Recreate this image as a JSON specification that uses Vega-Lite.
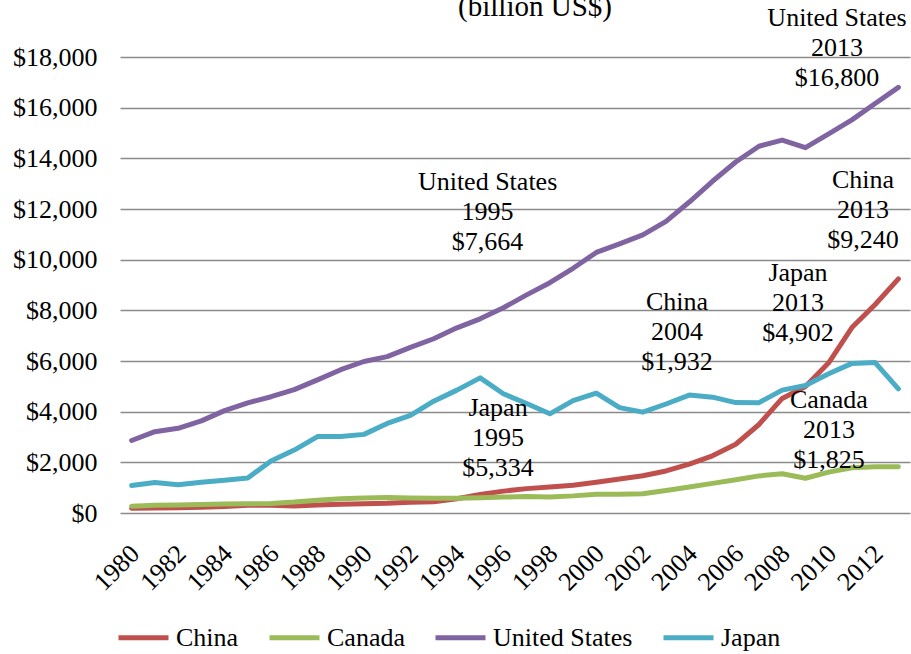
{
  "$schema": "https://vega.github.io/schema/vega-lite/v6.json",
  "autosize": {"type": "none"},
  "padding": {"left": 120, "top": 57, "right": 1, "bottom": 141},
  "width": 790,
  "height": 456,
  "title": {"text": "(billion US$)", "fontSize": 29, "font": "Liberation Serif", "fontWeight": "normal", "color": "black", "dx": 20, "offset": 0, "dy": 17},
  "config": {
    "font": "Liberation Serif",
    "view": {"stroke": null}
  },
  "datasets": {
    "gdp": [
      {"year": 1980, "China": 191, "Canada": 269, "United States": 2863, "Japan": 1087},
      {"year": 1981, "China": 196, "Canada": 302, "United States": 3211, "Japan": 1201},
      {"year": 1982, "China": 205, "Canada": 313, "United States": 3345, "Japan": 1117},
      {"year": 1983, "China": 230, "Canada": 340, "United States": 3638, "Japan": 1218},
      {"year": 1984, "China": 260, "Canada": 356, "United States": 4041, "Japan": 1295},
      {"year": 1985, "China": 309, "Canada": 365, "United States": 4347, "Japan": 1385},
      {"year": 1986, "China": 301, "Canada": 377, "United States": 4590, "Japan": 2051},
      {"year": 1987, "China": 273, "Canada": 431, "United States": 4870, "Japan": 2485},
      {"year": 1988, "China": 312, "Canada": 507, "United States": 5253, "Japan": 3016},
      {"year": 1989, "China": 348, "Canada": 566, "United States": 5658, "Japan": 3018},
      {"year": 1990, "China": 361, "Canada": 594, "United States": 5980, "Japan": 3104},
      {"year": 1991, "China": 383, "Canada": 611, "United States": 6174, "Japan": 3537},
      {"year": 1992, "China": 427, "Canada": 593, "United States": 6539, "Japan": 3853},
      {"year": 1993, "China": 445, "Canada": 578, "United States": 6879, "Japan": 4415},
      {"year": 1994, "China": 564, "Canada": 579, "United States": 7309, "Japan": 4850},
      {"year": 1995, "China": 734, "Canada": 604, "United States": 7664, "Japan": 5334},
      {"year": 1996, "China": 864, "Canada": 628, "United States": 8100, "Japan": 4706},
      {"year": 1997, "China": 962, "Canada": 652, "United States": 8609, "Japan": 4324},
      {"year": 1998, "China": 1029, "Canada": 631, "United States": 9089, "Japan": 3915},
      {"year": 1999, "China": 1094, "Canada": 676, "United States": 9661, "Japan": 4433},
      {"year": 2000, "China": 1211, "Canada": 742, "United States": 10285, "Japan": 4731},
      {"year": 2001, "China": 1339, "Canada": 736, "United States": 10622, "Japan": 4160},
      {"year": 2002, "China": 1471, "Canada": 758, "United States": 10978, "Japan": 3981},
      {"year": 2003, "China": 1660, "Canada": 892, "United States": 11511, "Japan": 4303},
      {"year": 2004, "China": 1932, "Canada": 1023, "United States": 12275, "Japan": 4656},
      {"year": 2005, "China": 2257, "Canada": 1169, "United States": 13094, "Japan": 4572},
      {"year": 2006, "China": 2713, "Canada": 1315, "United States": 13856, "Japan": 4357},
      {"year": 2007, "China": 3494, "Canada": 1465, "United States": 14478, "Japan": 4356},
      {"year": 2008, "China": 4522, "Canada": 1549, "United States": 14719, "Japan": 4849},
      {"year": 2009, "China": 4990, "Canada": 1371, "United States": 14419, "Japan": 5035},
      {"year": 2010, "China": 5930, "Canada": 1613, "United States": 14964, "Japan": 5495},
      {"year": 2011, "China": 7322, "Canada": 1789, "United States": 15518, "Japan": 5906},
      {"year": 2012, "China": 8229, "Canada": 1824, "United States": 16163, "Japan": 5938},
      {"year": 2013, "China": 9240, "Canada": 1825, "United States": 16800, "Japan": 4902}
    ],
    "notes": [
      {"label": "United States\n1995\n$7,664", "lx": 1995.32, "ly": 13066},
      {"label": "Japan\n1995\n$5,334", "lx": 1995.77, "ly": 4145},
      {"label": "China\n2004\n$1,932", "lx": 2003.47, "ly": 8329},
      {"label": "Japan\n2013\n$4,902", "lx": 2008.68, "ly": 9474},
      {"label": "United States\n2013\n$16,800", "lx": 2010.36, "ly": 19540},
      {"label": "China\n2013\n$9,240", "lx": 2011.48, "ly": 13145},
      {"label": "Canada\n2013\n$1,825", "lx": 2010.01, "ly": 4461}
    ]
  },
  "layer": [
    {
      "data": {"name": "gdp"},
      "transform": [{"fold": ["China", "Canada", "United States", "Japan"], "as": ["country", "gdp"]}],
      "mark": {"type": "line", "strokeWidth": 5, "strokeJoin": "round", "strokeCap": "round"},
      "encoding": {
        "x": {
          "field": "year", "type": "quantitative",
          "scale": {"domain": [1979.5, 2013.5], "nice": false, "zero": false},
          "axis": {
            "title": null, "grid": false, "domain": false, "ticks": false, "tickSize": 0,
            "values": [1980, 1982, 1984, 1986, 1988, 1990, 1992, 1994, 1996, 1998, 2000, 2002, 2004, 2006, 2008, 2010, 2012],
            "format": "d", "labelAngle": -45, "labelFontSize": 26, "labelFont": "Liberation Serif",
            "labelColor": "black", "labelPadding": 27, "labelOffset": -6, "labelOverlap": false, "labelFlush": false
          }
        },
        "y": {
          "field": "gdp", "type": "quantitative",
          "scale": {"domain": [0, 18000], "nice": false},
          "axis": {
            "title": null, "domain": false, "ticks": false, "tickSize": 0,
            "values": [0, 2000, 4000, 6000, 8000, 10000, 12000, 14000, 16000, 18000],
            "format": "$,.0f", "labelFontSize": 26, "labelFont": "Liberation Serif",
            "labelColor": "black", "labelPadding": 23,
            "gridColor": "#8a8a8a", "gridWidth": 1.5, "gridOpacity": 1
          }
        },
        "color": {
          "field": "country", "type": "nominal",
          "scale": {"domain": ["China", "Canada", "United States", "Japan"], "range": ["#C0504D", "#9BBB59", "#8064A2", "#4BACC6"]},
          "legend": {
            "title": null, "orient": "none", "direction": "horizontal",
            "legendX": -4, "legendY": 553, "padding": 0,
            "symbolType": "stroke", "symbolStrokeWidth": 5, "symbolSize": 2500,
            "labelFont": "Liberation Serif", "labelFontSize": 26, "labelColor": "black",
            "labelOffset": 5, "columnPadding": 20, "labelLimit": 400
          }
        }
      }
    },
    {
      "data": {"name": "notes"},
      "mark": {"type": "text", "fontSize": 26, "font": "Liberation Serif", "color": "black", "lineBreak": "\n", "lineHeight": 30, "align": "center", "baseline": "middle"},
      "encoding": {
        "x": {"field": "lx", "type": "quantitative"},
        "y": {"field": "ly", "type": "quantitative"},
        "text": {"field": "label"}
      }
    }
  ]
}
